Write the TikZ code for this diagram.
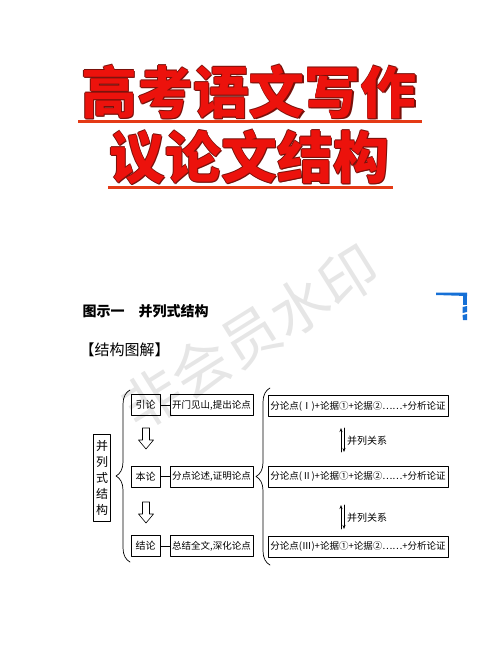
\documentclass[tikz,border=0pt]{standalone}
\usepackage{fontspec}
\setmainfont{Noto Sans CJK SC}
\usetikzlibrary{decorations.pathreplacing,arrows.meta}
\definecolor{titlered}{RGB}{236,18,12}
\definecolor{titleedge}{RGB}{120,16,10}
\definecolor{ruleorange}{RGB}{228,58,22}
\definecolor{markgray}{RGB}{230,230,230}
\definecolor{cornerblue}{RGB}{22,112,214}

\begin{document}
\begin{tikzpicture}[x=1pt,y=-1pt,line cap=round,line join=round,
		titletext/.style={font=\fontsize{56}{56}\selectfont\bfseries,text=titlered,inner sep=0pt},
		frame/.style={draw,line width=0.7pt,inner sep=0pt,minimum height=21pt,font=\fontsize{9.5}{10}\selectfont},
		tagbox/.style={frame,minimum width=29pt,font=\fontsize{10}{10}\selectfont},
		notebox/.style={frame,minimum width=83pt},
		pointbox/.style={frame,minimum width=180pt},
		sidebox/.style={draw,line width=0.7pt,inner sep=0pt,minimum width=17pt,minimum height=87pt,align=center,font=\fontsize{12}{16}\selectfont},
		bracepath/.style={decorate,decoration={brace,amplitude=14pt},line width=0.7pt},
		relarrow/.style={line width=0.6pt,-{Stealth[length=4pt,width=3pt]}}]
	\useasboundingbox (0,0) rectangle (500,667);
	% watermark
	\node[rotate=32,text=markgray,font=\fontsize{58}{58}\selectfont] (mark) at (250,337) {非会员水印};
	% title
	\foreach \dx/\dy [count=\k] in {-0.8/0,0.8/0,0/-0.8,0/0.8,1/1}{
		\node[titletext,text=titleedge] (edgeA\k) at (249+\dx,92+\dy) {高考语文写作};
		\node[titletext,text=titleedge] (edgeB\k) at (249+\dx,157+\dy) {议论文结构};
	}
	\node[titletext] (titleA) at (249,92) {高考语文写作};
	\node[titletext] (titleB) at (249,157) {议论文结构};
	\draw [ruleorange,line width=3pt,line cap=butt] (78,121) -- (422,121);
	\draw [ruleorange,line width=3pt,line cap=butt] (108,187) -- (393,187);
	% corner mark
	\fill [cornerblue] (436,292.5) -- (467,292.5) -- (467,296) -- (436,295) -- cycle;
	\fill [cornerblue] (462.5,293) rectangle (467,305);
	\fill [cornerblue] (462.5,307) -- (467,306) -- (467,312) -- (462.5,313) -- cycle;
	\fill [cornerblue] (462.5,315) -- (467,314) -- (467,320) -- (463,320) -- cycle;
	% headings
	\node[anchor=west,font=\fontsize{14}{14}\selectfont\bfseries] (head) at (79,311) {图示一\quad 并列式结构};
	\node[anchor=west,font=\fontsize{15}{15}\selectfont] (part) at (76,350) {【结构图解】};
	% left column
	\node[sidebox] (side) at (102,478) {并\\列\\式\\结\\构};
	\draw [bracepath] (130,562) -- (130,390);
	\node[tagbox] (yin) at (145.5,405) {引论};
	\node[tagbox] (ben) at (145.5,476.5) {本论};
	\node[tagbox] (jie) at (145.5,546) {结论};
	\node[notebox] (yinN) at (211.5,405) {开门见山,提出论点};
	\node[notebox] (benN) at (211.5,476.5) {分点论述,证明论点};
	\node[notebox] (jieN) at (211.5,546) {总结全文,深化论点};
	\draw [line width=0.7pt] (yin) -- (yinN);
	\draw [line width=0.7pt] (ben) -- (benN);
	\draw [line width=0.7pt] (jie) -- (jieN);
	\foreach \ya in {428,502}
		\draw [line width=0.6pt] (142.5,\ya) -- (149.5,\ya) -- (149.5,\ya+12) -- (153.5,\ya+12)
			-- (146,\ya+21) -- (138.5,\ya+12) -- (142.5,\ya+12) -- cycle;
	% right column
	\draw [bracepath] (270,565) -- (270,388);
	\node[pointbox] (p1) at (358,406) {分论点(Ⅰ)+论据①+论据②……+分析论证};
	\node[pointbox] (p2) at (358,476.5) {分论点(Ⅱ)+论据①+论据②……+分析论证};
	\node[pointbox] (p3) at (358,546.5) {分论点(Ⅲ)+论据①+论据②……+分析论证};
	\foreach \ya [count=\k] in {428,505}{
		\coordinate (upA\k) at (341,\ya+24);
		\coordinate (upB\k) at (341,\ya);
		\coordinate (dnA\k) at (344,\ya);
		\coordinate (dnB\k) at (344,\ya+24);
		\draw [relarrow] (upA\k) -- (upB\k);
		\draw [relarrow] (dnA\k) -- (dnB\k);
		\node[anchor=west,inner sep=0pt,font=\fontsize{10}{10}\selectfont] (rel\k) at (347,\ya+13) {并列关系};
	}
\end{tikzpicture}
\end{document}
